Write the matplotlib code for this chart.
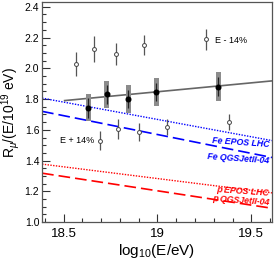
import matplotlib
matplotlib.use('Agg')
import matplotlib.pyplot as plt
from matplotlib.ticker import MultipleLocator

plt.rcParams['font.family'] = ['Liberation Sans', 'DejaVu Sans']
plt.rcParams['mathtext.fontset'] = 'custom'
plt.rcParams['mathtext.rm'] = 'Liberation Sans'
plt.rcParams['mathtext.it'] = 'Liberation Sans:italic'

# data points (log10 E, R_mu)
lgE = [18.631, 18.730, 18.845, 18.994, 19.325]
r_mu = [1.743, 1.831, 1.800, 1.848, 1.881]
r_stat = [0.064, 0.062, 0.060, 0.059, 0.060]
r_sys = [0.088, 0.089, 0.092, 0.091, 0.094]

# energy scale shifted points
lgE_minus = [18.566, 18.661, 18.780, 18.928, 19.257]
r_minus = [2.028, 2.127, 2.094, 2.151, 2.188]
err_minus = [0.080, 0.085, 0.071, 0.066, 0.066]

lgE_plus = [18.691, 18.787, 18.903, 19.050, 19.381]
r_plus = [1.530, 1.607, 1.585, 1.618, 1.650]
err_plus = [0.062, 0.066, 0.060, 0.050, 0.050]

# fit line
fit_x = [18.505, 19.61]
fit_y = [1.790, 1.918]

# model predictions
model_x = [18.385, 19.61]
fe_epos = [1.806, 1.530]
fe_qgs = [1.720, 1.420]
p_epos = [1.377, 1.190]
p_qgs = [1.318, 1.090]

fig = plt.figure(figsize=(2.75, 2.66), dpi=100)
ax = fig.add_axes([0.153, 0.165, 0.836, 0.827])

ax.plot(model_x, fe_epos, color='#0000ff', lw=1.0, ls=(0, (1, 1)))
ax.plot(model_x, fe_qgs, color='#0000ff', lw=1.2, ls=(0, (7, 3)))
ax.plot(model_x, p_epos, color='#ff0000', lw=1.0, ls=(0, (1, 1)))
ax.plot(model_x, p_qgs, color='#ff0000', lw=1.2, ls=(0, (7, 3)))

ax.plot(fit_x, fit_y, color='#666666', lw=1.2, zorder=2)

ax.errorbar(lgE_minus, r_minus, yerr=err_minus, fmt='o', ms=2.8, mfc='white',
            mec='#444444', mew=0.7, ecolor='#555555', elinewidth=0.9, capsize=0, zorder=3)
ax.errorbar(lgE_plus, r_plus, yerr=err_plus, fmt='o', ms=2.8, mfc='white',
            mec='#444444', mew=0.7, ecolor='#555555', elinewidth=0.9, capsize=0, zorder=3)

sys_lo = [r - s for r, s in zip(r_mu, r_sys)]
sys_h = [2 * s for s in r_sys]
ax.bar(lgE, sys_h, bottom=sys_lo, width=0.026, color='#8c8c8c', zorder=3)
ax.errorbar(lgE, r_mu, yerr=r_stat, fmt='o', ms=3.3, color='black',
            ecolor='#222222', elinewidth=0.9, capsize=0, zorder=4)

lab = dict(transform=ax.transAxes, ha='right', va='center', fontsize=6.3,
           fontweight='bold', fontstyle='italic', rotation=-4)
ax.text(0.99, 0.362, 'Fe EPOS LHC', color='#0000ff', **lab)
ax.text(0.99, 0.288, 'Fe QGSJetII-04', color='#0000ff', **lab)
ax.text(0.99, 0.142, 'p EPOS LHC', color='#ff0000', **lab)
ax.text(0.99, 0.097, 'p QGSJetII-04', color='#ff0000', **lab)

ax.text(0.752, 0.824, 'E - 14%', transform=ax.transAxes, fontsize=6.5, va='center')
ax.text(0.078, 0.37, 'E + 14%', transform=ax.transAxes, fontsize=6.5, va='center')

ax.set_xlim(18.385, 19.61)
ax.set_ylim(1.0, 2.43)
ax.xaxis.set_major_locator(MultipleLocator(0.5))
ax.xaxis.set_minor_locator(MultipleLocator(0.1))
ax.yaxis.set_major_locator(MultipleLocator(0.2))
ax.yaxis.set_minor_locator(MultipleLocator(0.05))
ax.set_xticks([18.5, 19, 19.5])
ax.set_xticklabels(['18.5', '19', '19.5'])
ax.tick_params(direction='in', which='both', top=False, right=False, colors='#333333')
ax.tick_params(which='major', length=6, width=0.8)
ax.tick_params(which='minor', length=3, width=0.8)
ax.tick_params(axis='x', labelsize=9.5, pad=4, labelcolor='black')
ax.tick_params(axis='y', labelsize=7.5, pad=2, labelcolor='black')
for s in ax.spines.values():
    s.set_color('#555555')
    s.set_linewidth(0.9)

ax.set_xlabel(r'log$_{10}$(E/eV)', fontsize=11, labelpad=2)
ax.set_ylabel(r'R$_{\mu}$/(E/10$^{19}$ eV)', fontsize=10, labelpad=2)

fig.savefig('out.png', dpi=100)
